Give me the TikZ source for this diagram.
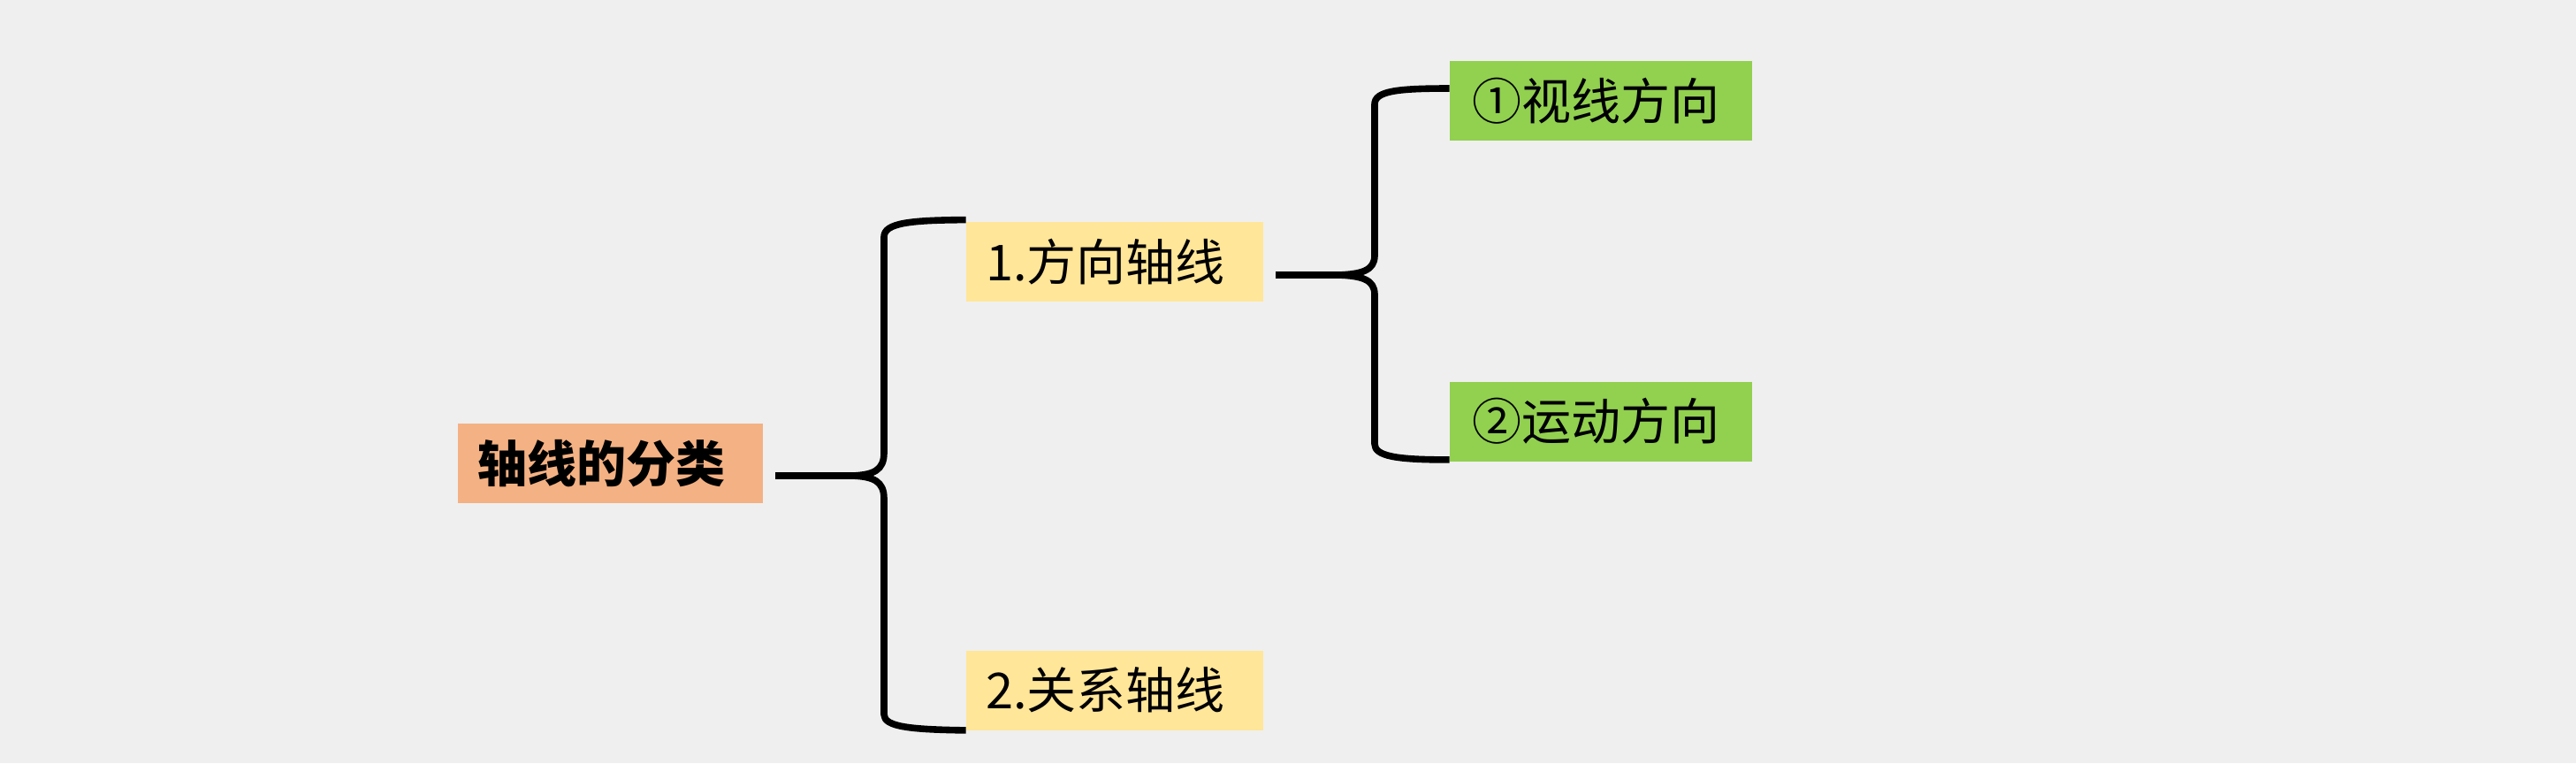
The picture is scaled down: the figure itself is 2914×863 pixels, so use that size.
\documentclass[tikz,border=0pt]{standalone}
\usepackage{fontspec}
\setmainfont{Noto Sans CJK SC}
\usetikzlibrary{calc}
\definecolor{bgc}{HTML}{EFEFEF}
\definecolor{rootc}{HTML}{F4B183}
\definecolor{yelc}{HTML}{FFE699}
\definecolor{grnc}{HTML}{92D050}
\tikzset{
  box/.style={rectangle, inner ysep=0pt, inner xsep=11pt, minimum height=45pt,
    align=left, text=black, font=\fontsize{28}{30}\selectfont},
  rootbox/.style={box, fill=rootc, text width=150.5pt, font=\bfseries\fontsize{28}{30}\selectfont},
  yelbox/.style={box, fill=yelc, text width=146pt},
  grnbox/.style={box, fill=grnc, text width=146pt, inner xsep=12.5pt},
  brace/.style={draw=black, line width=3.8pt, line join=round}
}
\begin{document}
\begin{tikzpicture}[x=0.5pt,y=-0.5pt]
\fill[bgc] (0,0) rectangle (2914,863);
\useasboundingbox (0,0) rectangle (2914,863);

\node[rootbox] (root) at (690.5,524) {轴线的分类};
\node[yelbox] (box1) at (1261,296) {1.方向轴线};
\node[yelbox] (box2) at (1261,780.5) {2.关系轴线};
\node[grnbox] (g1) at (1811,114) {①视线方向};
\node[grnbox] (g2) at (1811,476.5) {②运动方向};

% brace 1
\draw[brace] ($(root.east)+(14,14)$) -- (964,538);
\draw[brace] ($(box1.north west)+(0,-2)$) .. controls (1030,249) and (1000,252) .. (1000,268)
  -- (1000,512) .. controls (1000,532) and (988,537) .. (964,538)
  .. controls (988,539) and (1000,544) .. (1000,564)
  -- (1000,808) .. controls (1000,822) and (1030,825) .. (box2.south west);

% brace 2
\draw[brace] ($(box1.east)+(14,15)$) -- (1514,311);
\draw[brace] ($(g1.west)+(0,-14)$) .. controls (1580,100) and (1555,103) .. (1555,118)
  -- (1555,289) .. controls (1555,306) and (1540,310) .. (1514,311)
  .. controls (1540,312) and (1555,316) .. (1555,333)
  -- (1555,502) .. controls (1555,516) and (1580,520) .. ($(g2.south west)+(0,-2)$);
\end{tikzpicture}
\end{document}
